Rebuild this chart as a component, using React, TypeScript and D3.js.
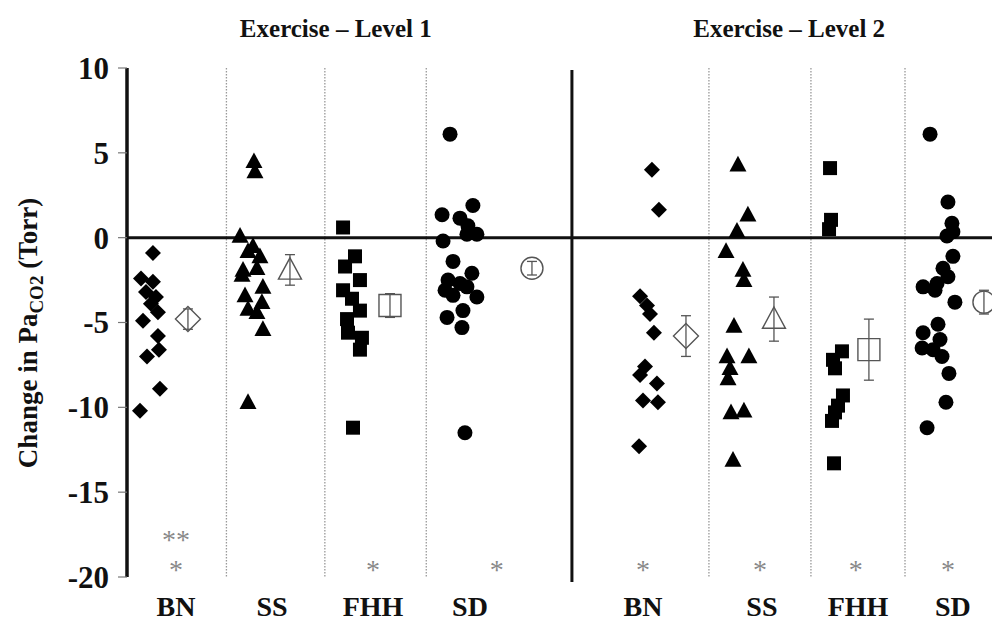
import React, { useEffect, useRef } from 'react';
import * as d3 from 'd3';

// panel titles, categories and y ticks
const levels = ['Exercise – Level 1', 'Exercise – Level 2'];
const categories = ['BN', 'SS', 'FHH', 'SD', 'BN', 'SS', 'FHH', 'SD'];
const shapes = ['diamond', 'triangle', 'square', 'circle', 'diamond', 'triangle', 'square', 'circle'];
const yTicks = [10, 5, 0, -5, -10, -15, -20];
const stars = ['**|*', '', '*', '*', '*', '*', '*', '*'];

// individual subjects (Torr), jitter in 1/100 of a slot
const bn1 = [-0.9, -2.4, -2.6, -3.2, -3.5, -3.9, -4.4, -4.9, -5.8, -6.6, -7.0, -8.9, -10.2];
const bn1Jit = [3, -9, 3, -4, 6, 1, 8, -7, 8, 9, -3, 10, -10];
const ss1 = [4.5, 3.9, 0.1, -0.5, -0.8, -1.1, -1.8, -1.9, -2.2, -2.9, -3.4, -3.8, -4.2, -4.4, -5.4, -9.7];
const ss1Jit = [2, 3, -12, 1, -4, 8, 5, -9, -10, 11, -7, 10, -4, 5, 11, -4];
const fhh1 = [0.6, -1.1, -1.7, -2.5, -3.1, -3.6, -4.3, -4.8, -5.6, -5.9, -6.6, -11.2];
const fhh1Jit = [-9, 3, -7, 8, -9, 0, 8, -5, -4, 10, 8, 1];
const sd1 = [6.1, 1.9, 1.35, 1.15, 0.7, 0.2, 0.2, -0.2, -1.4, -2.1, -2.5, -2.7, -2.9, -3.1, -3.4, -3.5, -4.3, -4.7, -5.3, -11.5];
const sd1Jit = [-10, 13, -18, 0, 8, 17, 7, -17, -7, 12, -12, 0, 7, -15, -7, 17, 3, -13, 2, 5];
const bn2 = [4.0, 1.65, -3.45, -4.0, -4.5, -5.6, -7.6, -8.1, -8.6, -9.6, -9.7, -12.3];
const bn2Jit = [4, 11, -8, -1, 2, 6, -3, -8, 9, -5, 10, -9];
const ss2 = [4.3, 1.35, 0.4, -0.8, -1.9, -2.5, -5.2, -7.0, -7.0, -7.7, -8.3, -10.3, -10.2, -13.1];
const ss2Jit = [0, 10, -1, -12, 5, 6, -4, -11, 11, -8, -10, -7, 6, -5];
const fhh2 = [4.1, 1.05, 0.5, -6.7, -7.2, -7.7, -9.3, -9.9, -10.3, -10.8, -13.3];
const fhh2Jit = [-5, -4, -6, 7, -2, 0, 8, 3, 0, -3, -1];
const sd2 = [6.1, 2.1, 0.85, 0.35, 0.1, -1.1, -1.8, -2.3, -2.7, -2.9, -3.1, -3.8, -5.1, -5.6, -6.0, -6.5, -6.6, -7.0, -8.0, -9.7, -11.2];
const sd2Jit = [-10, 8, 12, 13, 7, 13, 3, 8, -3, -17, -5, 15, -2, -17, 0, -18, -7, 2, 9, 6, -13];

// group mean and SE
const means = [-4.8, -1.9, -4.0, -1.8, -5.8, -4.8, -6.6, -3.8];
const errs = [0.6, 0.9, 0.7, 0.4, 1.2, 1.3, 1.8, 0.7];

const values = [bn1, ss1, fhh1, sd1, bn2, ss2, fhh2, sd2];
const jitters = [bn1Jit, ss1Jit, fhh1Jit, sd1Jit, bn2Jit, ss2Jit, fhh2Jit, sd2Jit];

// layout, in slot units along x
const clusterPos = [0.231, 1.257, 2.263, 3.349, 5.24, 6.145, 7.121, 8.177];
const meanPos = [0.613, 1.639, 2.645, 4.073, 5.622, 6.507, 7.462, 8.619];
const labelPos = [0.493, 1.458, 2.474, 3.45, 5.19, 6.386, 7.352, 8.307];
const starPos = [0.493, 1.458, 2.474, 3.72, 5.19, 6.366, 7.33, 8.257];
const dotted = [1.0, 1.99, 3.01, 5.853, 6.879, 7.825];
const split = 4.475;
const titlePos = [2.1, 6.66];

const W = 992, H = 624;
const FONT = '"Liberation Serif", "Times New Roman", serif';

function shapePath(kind: string, s: number) {
  if (kind === 'diamond') return `M0,${-s}L${s},0L0,${s}L${-s},0Z`;
  if (kind === 'square') return `M${-s},${-s}H${s}V${s}H${-s}Z`;
  if (kind === 'triangle') return `M0,${-s * 1.05}L${s},${s * 0.8}L${-s},${s * 0.8}Z`;
  return d3.arc()({ innerRadius: 0, outerRadius: s, startAngle: 0, endAngle: Math.PI * 2 }) as string;
}

function Chart() {
  const ref = useRef<SVGSVGElement>(null);

  useEffect(() => {
    const svg = d3.select(ref.current);
    svg.selectAll('*').remove();

    const x = d3.scaleLinear().domain([0, 8.7]).range([127, 992]);
    const y = d3.scaleLinear().domain([-20, 10]).range([577, 68]);

    // dotted dividers
    svg.selectAll('line.div')
      .data(dotted)
      .enter()
      .append('line')
      .attr('class', 'div')
      .attr('x1', d => x(d)).attr('x2', d => x(d))
      .attr('y1', y(10)).attr('y2', y(-20))
      .attr('stroke', '#999')
      .attr('stroke-width', 1.3)
      .attr('stroke-dasharray', '1.5,1.5');

    // solid split between levels
    svg.append('line')
      .attr('x1', x(split)).attr('x2', x(split))
      .attr('y1', y(10) + 2).attr('y2', y(-20) + 5)
      .attr('stroke', '#111').attr('stroke-width', 3);

    // zero line
    svg.append('line')
      .attr('x1', x(0)).attr('x2', W)
      .attr('y1', y(0)).attr('y2', y(0))
      .attr('stroke', '#111').attr('stroke-width', 3);

    // y axis
    const axis = svg.append('g');
    axis.append('line')
      .attr('x1', x(0)).attr('x2', x(0))
      .attr('y1', y(10)).attr('y2', y(-20))
      .attr('stroke', '#111').attr('stroke-width', 3.5);
    axis.selectAll('line.tick')
      .data(yTicks)
      .enter()
      .append('line')
      .attr('class', 'tick')
      .attr('x1', x(0) - 9).attr('x2', x(0))
      .attr('y1', d => y(d)).attr('y2', d => y(d))
      .attr('stroke', '#777').attr('stroke-width', 1.2);
    axis.selectAll('text')
      .data(yTicks)
      .enter()
      .append('text')
      .attr('x', x(0) - 18)
      .attr('y', d => y(d))
      .attr('dy', '0.35em')
      .attr('text-anchor', 'end')
      .attr('font-family', FONT).attr('font-weight', 'bold').attr('font-size', 31)
      .attr('fill', '#111')
      .text(d => String(d));

    // y label
    const yl = svg.append('text')
      .attr('transform', `translate(37,333) rotate(-90)`)
      .attr('text-anchor', 'middle')
      .attr('font-family', FONT).attr('font-weight', 'bold').attr('font-size', 27)
      .attr('fill', '#111');
    yl.append('tspan').text('Change in Pa');
    yl.append('tspan').attr('dy', 6).attr('font-size', 19).text('CO2');
    yl.append('tspan').attr('dy', -6).text(' (Torr)');

    // titles
    svg.selectAll('text.title')
      .data(levels)
      .enter()
      .append('text')
      .attr('class', 'title')
      .attr('x', (d, i) => x(titlePos[i]))
      .attr('y', 37)
      .attr('text-anchor', 'middle')
      .attr('font-family', FONT).attr('font-weight', 'bold').attr('font-size', 25)
      .attr('fill', '#111')
      .text(d => d);

    // category labels
    svg.selectAll('text.cat')
      .data(categories)
      .enter()
      .append('text')
      .attr('class', 'cat')
      .attr('x', (d, i) => x(labelPos[i]))
      .attr('y', 616)
      .attr('text-anchor', 'middle')
      .attr('font-family', FONT).attr('font-weight', 'bold').attr('font-size', 28)
      .attr('fill', '#111')
      .text(d => d);

    // significance stars
    stars.forEach((s, i) => {
      if (!s) return;
      const rows = s.split('|');
      rows.forEach((r, k) => {
        svg.append('text')
          .attr('x', x(starPos[i]))
          .attr('y', 579 - (rows.length - 1 - k) * 30)
          .attr('text-anchor', 'middle')
          .attr('font-family', FONT).attr('font-size', 28)
          .attr('fill', '#888')
          .text(r);
      });
    });

    // points
    values.forEach((vals, g) => {
      const grp = svg.append('g');
      const size = shapes[g] === 'square' ? 7 : shapes[g] === 'circle' ? 7.5 : shapes[g] === 'triangle' ? 8.5 : 8;
      grp.selectAll('path.pt')
        .data(vals)
        .enter()
        .append('path')
        .attr('class', 'pt')
        .attr('transform', (d, i) => `translate(${x(clusterPos[g] + jitters[g][i] / 100)},${y(d)})`)
        .attr('d', shapePath(shapes[g], size))
        .attr('fill', '#000');

      // mean +/- error
      const mx = x(meanPos[g]);
      const eb = grp.append('g').attr('stroke', '#555').attr('stroke-width', 1.3).attr('fill', 'none');
      eb.append('line').attr('x1', mx).attr('x2', mx)
        .attr('y1', y(means[g] + errs[g])).attr('y2', y(means[g] - errs[g]));
      [means[g] + errs[g], means[g] - errs[g]].forEach(v => {
        eb.append('line').attr('x1', mx - 5).attr('x2', mx + 5).attr('y1', y(v)).attr('y2', y(v));
      });
      const big = shapes[g] === 'square' ? 11 : shapes[g] === 'circle' ? 11 : shapes[g] === 'triangle' ? 11.5 : 12.5;
      eb.append('path')
        .attr('transform', `translate(${mx},${y(means[g])})`)
        .attr('d', shapePath(shapes[g], big))
        .attr('stroke-width', 1.4);
    });
  }, []);

  return <svg ref={ref} width={W} height={H} style={{ position: 'absolute', left: 0, top: 0, background: '#fff' }} />;
}

export default function App() {
  return <Chart />;
}
